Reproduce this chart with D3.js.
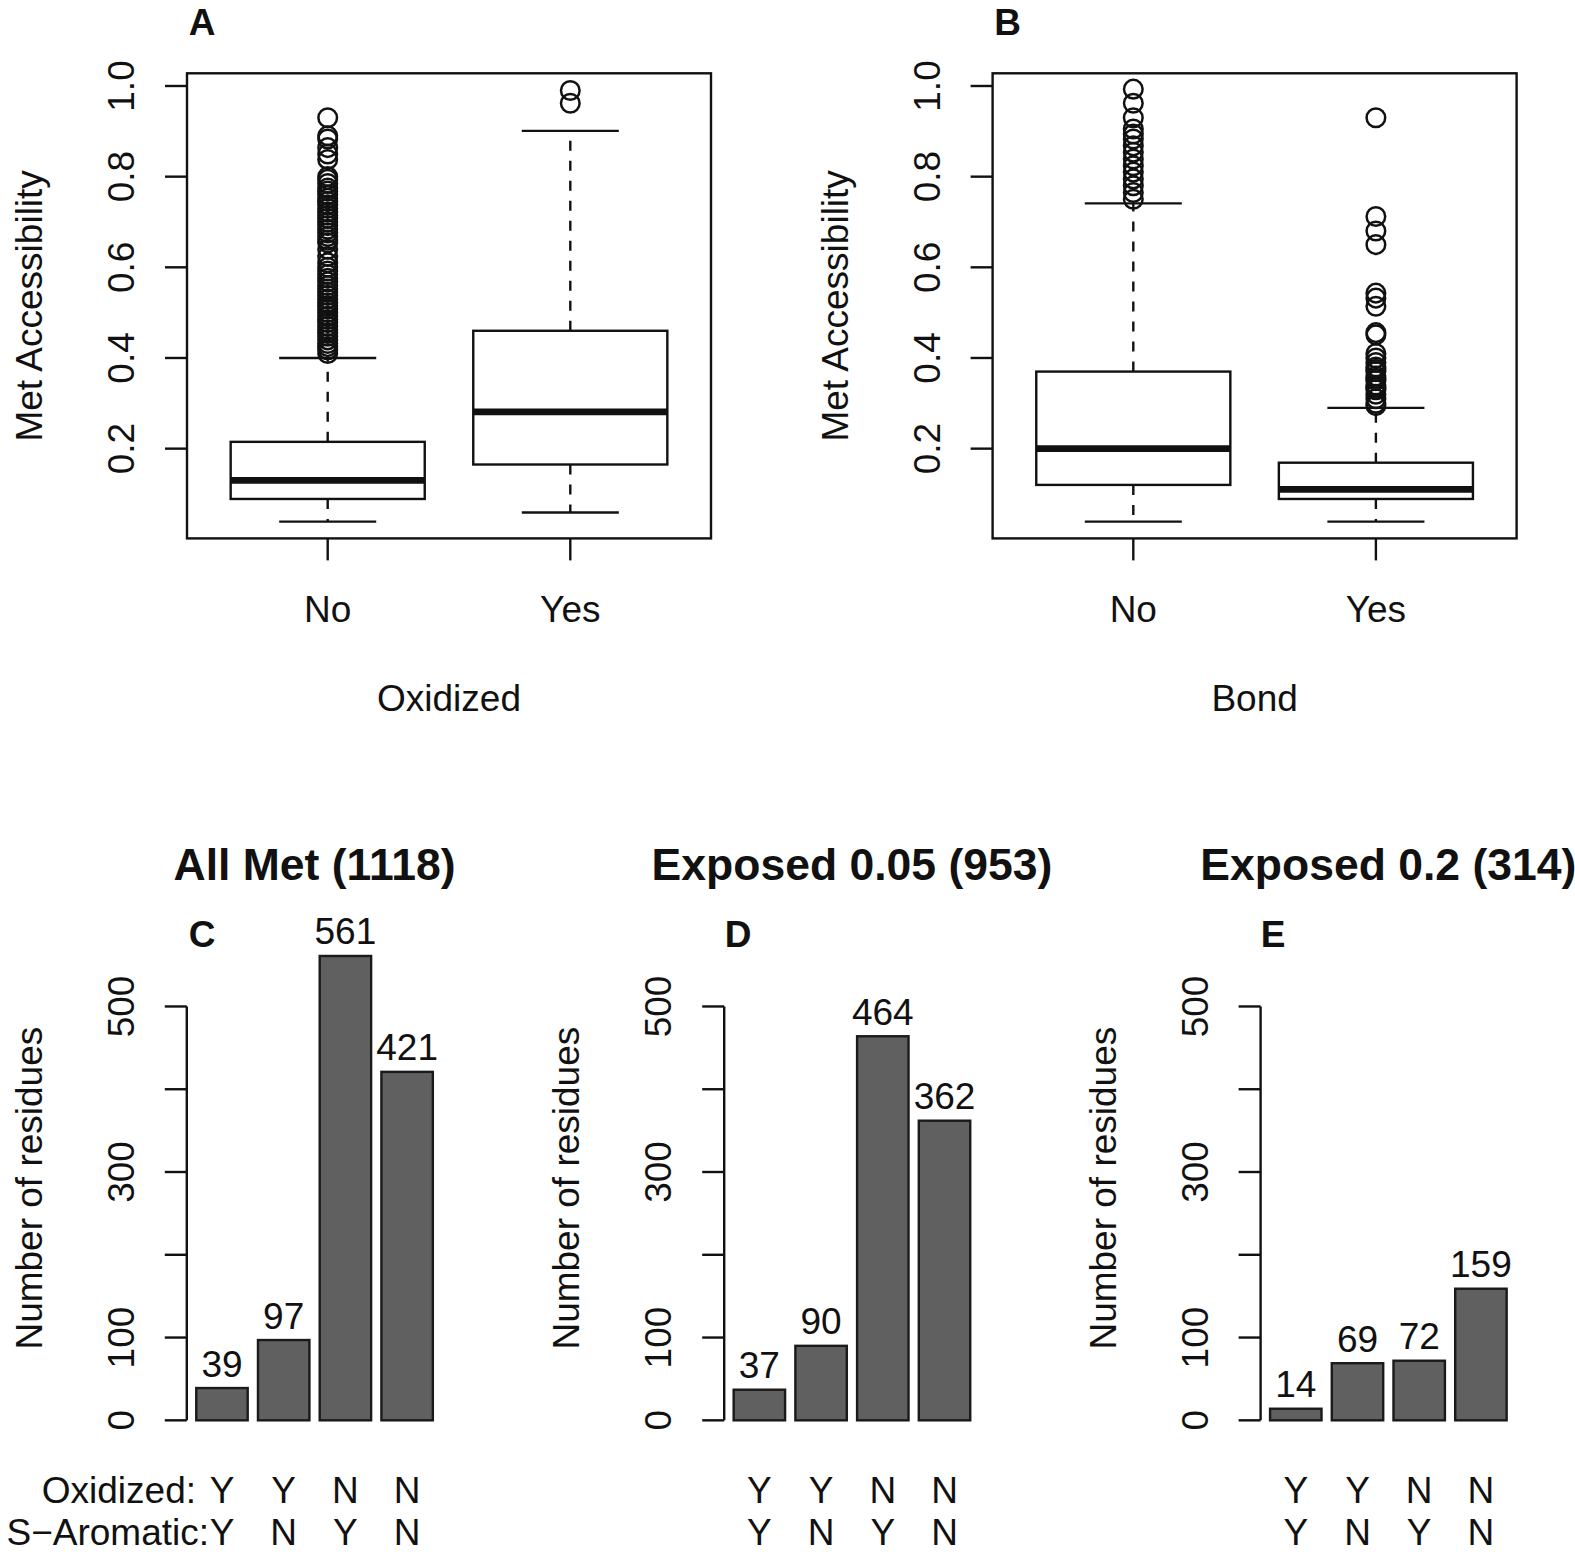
<!DOCTYPE html>
<html><head><meta charset="utf-8">
<script src="https://cdn.jsdelivr.net/npm/d3@7"></script>
<style>body{margin:0;background:#fff} text{font-family:"Liberation Sans",Arial,Helvetica,sans-serif;fill:#111;}</style>
</head><body>
<svg id="chart" width="1575" height="1552"></svg>
<script>
// ---------- DATA ----------
const boxCategories = ["No", "Yes"];
const boxYTicks = [0.2, 0.4, 0.6, 0.8, 1.0];
const boxYTickLabels = ["0.2", "0.4", "0.6", "0.8", "1.0"];
const boxYLim = [0.002, 1.028];

// stats: [lower whisker, Q1, median, Q3, upper whisker]
const oxidizedNoStats  = [0.039, 0.089, 0.130, 0.215, 0.400];
const oxidizedYesStats = [0.059, 0.165, 0.281, 0.460, 0.901];
const oxidizedNoOutliers = [0.930, 0.890, 0.883, 0.864, 0.850, 0.838, 0.800, 0.794, 0.785, 0.775,
  0.768, 0.760, 0.752, 0.745, 0.738, 0.730, 0.722, 0.715, 0.708, 0.700, 0.692, 0.684, 0.676,
  0.668, 0.660, 0.654, 0.640, 0.624, 0.610, 0.600, 0.592, 0.584, 0.576, 0.568, 0.560, 0.552,
  0.545, 0.538, 0.530, 0.522, 0.515, 0.508, 0.500, 0.492, 0.485, 0.478, 0.470, 0.462, 0.455,
  0.448, 0.440, 0.432, 0.425, 0.418, 0.410];
const oxidizedYesOutliers = [0.990, 0.962];

const bondNoStats  = [0.039, 0.120, 0.200, 0.370, 0.741];
const bondYesStats = [0.039, 0.089, 0.110, 0.169, 0.290];
const bondNoOutliers = [0.993, 0.962, 0.930, 0.905, 0.894, 0.883, 0.868, 0.854, 0.839, 0.824,
  0.810, 0.795, 0.780, 0.765, 0.750];
const bondYesOutliers = [0.930, 0.712, 0.680, 0.650, 0.543, 0.532, 0.514, 0.456, 0.451, 0.410,
  0.400, 0.390, 0.380, 0.375, 0.370, 0.360, 0.355, 0.350, 0.340, 0.335, 0.330, 0.320, 0.310,
  0.300, 0.295];

const barOxidized = ["Y", "Y", "N", "N"];
const barSAromatic = ["Y", "N", "Y", "N"];
const allMetCounts = [39, 97, 561, 421];
const exposed005Counts = [37, 90, 464, 362];
const exposed02Counts = [14, 69, 72, 159];
const barTitles = ["All Met (1118)", "Exposed 0.05 (953)", "Exposed 0.2 (314)"];
const barLetters = ["C", "D", "E"];
const barYTicks = [0, 100, 200, 300, 400, 500];
const barYTickLabels = ["0", "100", "", "300", "", "500"];
const barYLim = [0, 561];

// ---------- DRAW ----------
const svg = d3.select("#chart");
const FS = 37;
const LW = 2.4;

function rotText(g, x, y, txt, size, weight) {
  g.append("text").attr("transform", `translate(${x},${y}) rotate(-90)`)
    .attr("text-anchor", "middle").style("font-size", size + "px")
    .style("font-weight", weight || "normal").text(txt);
}

function boxPanel(dx, letter, xTitle, statsList, outList) {
  const g = svg.append("g").attr("transform", `translate(${dx},0)`);
  const left = 187, right = 711, top = 73.3, bottom = 538.4;
  const x = d3.scaleLinear().domain([0.42, 2.58]).range([left, right]);
  const y = d3.scaleLinear().domain(boxYLim).range([bottom, top]);
  const u = x(1) - x(0);

  statsList.forEach((s, i) => {
    const cx = x(i + 1);
    const [lo, q1, med, q3, hi] = s;
    g.append("line").attr("x1", cx).attr("x2", cx).attr("y1", y(q3)).attr("y2", y(hi))
      .attr("stroke", "#111").attr("stroke-width", LW).attr("stroke-dasharray", "10,10");
    g.append("line").attr("x1", cx).attr("x2", cx).attr("y1", y(q1)).attr("y2", y(lo))
      .attr("stroke", "#111").attr("stroke-width", LW).attr("stroke-dasharray", "10,10");
    [lo, hi].forEach(v => g.append("line").attr("x1", cx - 0.2 * u).attr("x2", cx + 0.2 * u)
      .attr("y1", y(v)).attr("y2", y(v)).attr("stroke", "#111").attr("stroke-width", LW));
    g.append("rect").attr("x", cx - 0.4 * u).attr("width", 0.8 * u)
      .attr("y", y(q3)).attr("height", y(q1) - y(q3))
      .attr("fill", "#fff").attr("stroke", "#111").attr("stroke-width", LW);
    g.append("line").attr("x1", cx - 0.4 * u).attr("x2", cx + 0.4 * u)
      .attr("y1", y(med)).attr("y2", y(med)).attr("stroke", "#111").attr("stroke-width", 6.8);
    g.selectAll(null).data(outList[i]).enter().append("circle")
      .attr("cx", cx).attr("cy", d => y(d)).attr("r", 9.3)
      .attr("fill", "none").attr("stroke", "#111").attr("stroke-width", 2.5);
  });

  g.append("rect").attr("x", left).attr("y", top).attr("width", right - left).attr("height", bottom - top)
    .attr("fill", "none").attr("stroke", "#111").attr("stroke-width", LW);

  boxCategories.forEach((c, i) => {
    const cx = x(i + 1);
    g.append("line").attr("x1", cx).attr("x2", cx).attr("y1", bottom).attr("y2", bottom + 22)
      .attr("stroke", "#111").attr("stroke-width", LW);
    g.append("text").attr("x", cx).attr("y", 622).attr("text-anchor", "middle")
      .style("font-size", FS + "px").text(c);
  });
  boxYTicks.forEach((t, i) => {
    g.append("line").attr("x1", left).attr("x2", left - 22).attr("y1", y(t)).attr("y2", y(t))
      .attr("stroke", "#111").attr("stroke-width", LW);
    rotText(g, 134, y(t), boxYTickLabels[i], FS);
  });
  rotText(g, 42, (top + bottom) / 2, "Met Accessibility", FS);
  g.append("text").attr("x", (left + right) / 2).attr("y", 711).attr("text-anchor", "middle")
    .style("font-size", FS + "px").text(xTitle);
  g.append("text").attr("x", 202).attr("y", 35).attr("text-anchor", "middle")
    .style("font-size", FS + "px").style("font-weight", "bold").text(letter);
}

boxPanel(0, "A", "Oxidized", [oxidizedNoStats, oxidizedYesStats], [oxidizedNoOutliers, oxidizedYesOutliers]);
boxPanel(805.6, "B", "Bond", [bondNoStats, bondYesStats], [bondNoOutliers, bondYesOutliers]);

function barPanel(ax, letterX, counts, title, letter, withRowNames) {
  const g = svg.append("g");
  const pad = 0.04 * (barYLim[1] - barYLim[0]);
  const y = d3.scaleLinear().domain([barYLim[0] - pad, barYLim[1] + pad]).range([1438.9, 937.4]);
  const x = d3.scaleLinear().domain([0.016, 4.984]).range([ax, ax + 255.5]);
  counts.forEach((v, i) => {
    const l = 0.2 + i * 1.2;
    g.append("rect").attr("x", x(l)).attr("width", x(l + 1) - x(l))
      .attr("y", y(v)).attr("height", y(0) - y(v))
      .attr("fill", "#606060").attr("stroke", "#1a1a1a").attr("stroke-width", 2.4);
    const cx = x(l + 0.5);
    g.append("text").attr("x", cx).attr("y", y(v) - 11.5).attr("text-anchor", "middle")
      .style("font-size", FS + "px").text(v);
    g.append("text").attr("x", cx).attr("y", 1502.7).attr("text-anchor", "middle")
      .style("font-size", FS + "px").text(barOxidized[i]);
    g.append("text").attr("x", cx).attr("y", 1545).attr("text-anchor", "middle")
      .style("font-size", FS + "px").text(barSAromatic[i]);
  });
  g.append("line").attr("x1", ax).attr("x2", ax).attr("y1", y(barYTicks[0])).attr("y2", y(barYTicks[barYTicks.length - 1]))
    .attr("stroke", "#111").attr("stroke-width", LW);
  barYTicks.forEach((t, i) => {
    g.append("line").attr("x1", ax).attr("x2", ax - 22).attr("y1", y(t)).attr("y2", y(t))
      .attr("stroke", "#111").attr("stroke-width", LW);
    if (barYTickLabels[i]) rotText(g, ax - 53, y(t), barYTickLabels[i], FS);
  });
  rotText(g, ax - 145, (937.4 + 1438.9) / 2, "Number of residues", FS);
  g.append("text").attr("x", ax + 127.75).attr("y", 880).attr("text-anchor", "middle")
    .style("font-size", "44.5px").style("font-weight", "bold").text(title);
  g.append("text").attr("x", letterX).attr("y", 947).attr("text-anchor", "middle")
    .style("font-size", FS + "px").style("font-weight", "bold").text(letter);
  if (withRowNames) {
    g.append("text").attr("x", 196).attr("y", 1502.7).attr("text-anchor", "end")
      .style("font-size", FS + "px").text("Oxidized:");
    g.append("text").attr("x", 209).attr("y", 1545).attr("text-anchor", "end")
      .style("font-size", FS + "px").text("S\u2212Aromatic:");
  }
}

barPanel(186.8, 202, allMetCounts, barTitles[0], barLetters[0], true);
barPanel(724.2, 738, exposed005Counts, barTitles[1], barLetters[1], false);
barPanel(1260.6, 1273, exposed02Counts, barTitles[2], barLetters[2], false);
</script></body></html>
